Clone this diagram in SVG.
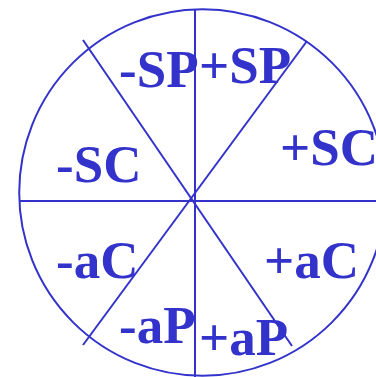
<svg xmlns="http://www.w3.org/2000/svg" width="376" height="377" viewBox="0 0 376 377">
<style>
.ln{stroke:#3333cc;stroke-width:2;fill:none}
.t{font-family:"Liberation Serif","Times New Roman",serif;font-weight:bold;font-size:53px;fill:#3333cc}
</style>
<rect width="376" height="377" fill="#fff"/>
<g id="connectors">
<circle class="ln" cx="202.5" cy="192.5" r="183.3"/>
<line class="ln" x1="195" y1="9" x2="195" y2="377"/>
<line class="ln" x1="19" y1="201" x2="376" y2="201"/>
<line class="ln" x1="83" y1="40" x2="292" y2="346"/>
<line class="ln" x1="307" y1="41" x2="83" y2="345"/>
</g>
<g id="mSP"><text class="t" x="119" y="87">-SP</text></g>
<g id="pSP"><text class="t" x="199" y="83">+SP</text></g>
<g id="mSC"><text class="t" x="56" y="182">-SC</text></g>
<g id="pSC"><text class="t" x="280" y="165">+SC</text></g>
<g id="maC"><text class="t" x="56" y="278">-aC</text></g>
<g id="paC"><text class="t" x="264" y="278">+aC</text></g>
<g id="maP"><text class="t" x="119" y="343">-aP</text></g>
<g id="paP"><text class="t" x="199" y="355">+aP</text></g>
</svg>
